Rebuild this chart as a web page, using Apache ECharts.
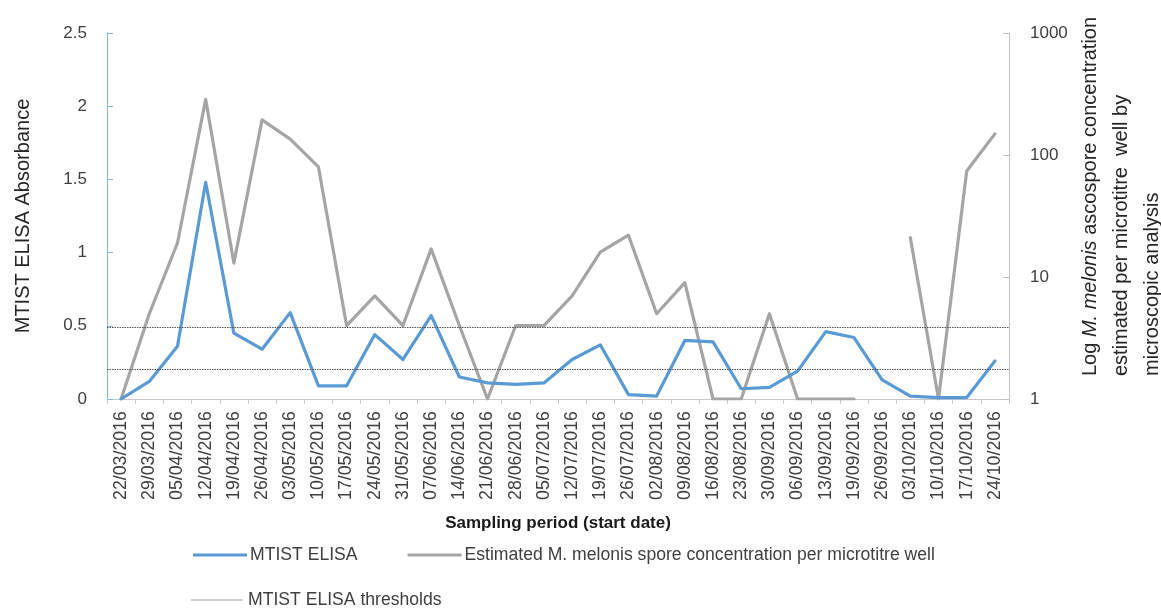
<!DOCTYPE html>
<html>
<head>
<meta charset="utf-8">
<script src="https://cdn.jsdelivr.net/npm/echarts@6/dist/echarts.min.js"></script>
<style>
  html, body { margin: 0; padding: 0; background: #ffffff; }
  #chart { width: 1161px; height: 608px; }
</style>
</head>
<body>
<div id="chart"></div>
<script>
// Weekly sampling periods (start date)
const sampleDates = [
  '22/03/2016', '29/03/2016', '05/04/2016', '12/04/2016', '19/04/2016', '26/04/2016',
  '03/05/2016', '10/05/2016', '17/05/2016', '24/05/2016', '31/05/2016', '07/06/2016',
  '14/06/2016', '21/06/2016', '28/06/2016', '05/07/2016', '12/07/2016', '19/07/2016',
  '26/07/2016', '02/08/2016', '09/08/2016', '16/08/2016', '23/08/2016', '30/09/2016',
  '06/09/2016', '13/09/2016', '19/09/2016', '26/09/2016', '03/10/2016', '10/10/2016',
  '17/10/2016', '24/10/2016'
];

// MTIST ELISA absorbance per sampling period
const elisaAbsorbance = [
  0, 0.12, 0.36, 1.48, 0.45, 0.34, 0.59, 0.09, 0.09, 0.44, 0.27, 0.57,
  0.15, 0.11, 0.10, 0.11, 0.27, 0.37, 0.03, 0.02, 0.40, 0.39, 0.07, 0.08,
  0.19, 0.46, 0.42, 0.13, 0.02, 0.01, 0.01, 0.26
];

// Estimated M. melonis ascospores per microtitre well (microscopy); null = no count
const sporeCount = [
  1, 5, 19, 286, 13, 194, 135, 80, 4, 7, 4, 17,
  4, 1, 4, 4, 7, 16, 22, 5, 9, 1, 1, 5,
  1, 1, 1, null, 21, 1, 74, 149
];

// ELISA decision thresholds
const elisaThresholds = [0.49, 0.2];

// Axis ticks
const absorbanceTicks = { min: 0, max: 2.5, interval: 0.5 };
const sporeTicks = { min: 1, max: 1000 };

const seriesNames = {
  elisa: 'MTIST ELISA',
  spores: 'Estimated M. melonis spore concentration per microtitre well',
  thresholds: 'MTIST ELISA thresholds'
};

const FONT = '"Liberation Sans", Arial, sans-serif';
const TEXT = '#404040';

const chart = echarts.init(document.getElementById('chart'), null, { renderer: 'canvas' });

chart.setOption({
  animation: false,
  backgroundColor: '#ffffff',
  textStyle: { fontFamily: FONT },
  grid: { left: 107, right: 152, top: 33, bottom: 209, containLabel: false },
  legend: [
    {
      left: 188, top: 541,
      itemWidth: 54, itemHeight: 3, itemGap: 50,
      icon: 'rect',
      textStyle: { fontFamily: FONT, fontSize: 17.6, color: TEXT, padding: [0, 0, 0, -2] },
      data: [seriesNames.elisa, seriesNames.spores]
    },
    {
      left: 186, top: 586,
      itemWidth: 52, itemHeight: 1,
      icon: 'rect',
      textStyle: { fontFamily: FONT, fontSize: 17.6, color: TEXT, padding: [0, 0, 0, 0] },
      data: [{ name: seriesNames.thresholds, itemStyle: { color: '#a0a0a0' } }]
    }
  ],
  xAxis: {
    type: 'category',
    data: sampleDates,
    boundaryGap: true,
    name: 'Sampling period (start date)',
    nameLocation: 'middle',
    nameGap: 116,
    nameTextStyle: { fontFamily: FONT, fontSize: 17, fontWeight: 'bold', color: '#1a1a1a' },
    axisLine: { show: true, lineStyle: { color: '#c8c8c8', width: 1 } },
    axisTick: { show: true, alignWithLabel: false, interval: 0, length: 5, lineStyle: { color: '#c8c8c8' } },
    axisLabel: { interval: 0, rotate: 90, margin: 12, fontFamily: FONT, fontSize: 17.8, color: TEXT },
    splitLine: { show: false }
  },
  yAxis: [
    {
      type: 'value',
      position: 'left',
      min: absorbanceTicks.min,
      max: absorbanceTicks.max,
      interval: absorbanceTicks.interval,
      name: 'MTIST ELISA Absorbance',
      nameLocation: 'middle',
      nameGap: 74,
      nameRotate: 90,
      nameTextStyle: { fontFamily: FONT, fontSize: 20, color: '#262626' },
      axisLine: { show: true, lineStyle: { color: '#7eb3e3', width: 1 } },
      axisTick: { show: true, inside: true, length: 6, lineStyle: { color: '#7eb3e3' } },
      axisLabel: {
        margin: 20, fontFamily: FONT, fontSize: 17, color: TEXT,
        formatter: v => String(v)
      },
      splitLine: { show: false }
    },
    {
      type: 'log',
      logBase: 10,
      position: 'right',
      min: sporeTicks.min,
      max: sporeTicks.max,
      axisLine: { show: true, lineStyle: { color: '#c0c0c0', width: 1 } },
      axisTick: { show: true, inside: true, length: 6, lineStyle: { color: '#c0c0c0' } },
      axisLabel: {
        margin: 21, fontFamily: FONT, fontSize: 17, color: TEXT,
        formatter: v => String(Math.round(v))
      },
      splitLine: { show: false }
    }
  ],
  series: [
    {
      name: seriesNames.spores,
      type: 'line',
      yAxisIndex: 1,
      data: sporeCount,
      connectNulls: false,
      symbol: 'none',
      lineStyle: { color: '#a5a5a5', width: 3.2, cap: 'round', join: 'round' },
      itemStyle: { color: '#a5a5a5' },
      z: 2
    },
    {
      name: seriesNames.elisa,
      type: 'line',
      yAxisIndex: 0,
      data: elisaAbsorbance,
      symbol: 'none',
      lineStyle: { color: '#5b9bd5', width: 3.2, cap: 'round', join: 'round' },
      itemStyle: { color: '#5b9bd5' },
      z: 3
    },
    {
      name: seriesNames.thresholds,
      type: 'line',
      yAxisIndex: 0,
      data: sampleDates.map(() => null),
      symbol: 'none',
      lineStyle: { color: '#a0a0a0', width: 1, type: 'dotted' },
      itemStyle: { color: '#a0a0a0' },
      z: 4,
      markLine: {
        silent: true,
        symbol: 'none',
        animation: false,
        label: { show: false },
        lineStyle: { color: '#555555', width: 1.2, type: [1.5, 1] },
        data: elisaThresholds.map(v => ({ yAxis: v }))
      }
    }
  ],
  graphic: [
    {
      type: 'text',
      x: 1075,
      y: 376,
      rotation: Math.PI / 2,
      style: {
        text: '{n|Log }{i|M. melonis}{n| ascospore concentration}\n{n|estimated per microtitre  well by}\n{n|microscopic analysis}',
        align: 'left',
        verticalAlign: 'top',
        fill: '#262626',
        font: '20px "Liberation Sans", Arial, sans-serif',
        lineHeight: 31,
        rich: {
          n: { fontFamily: FONT, fontSize: 20, lineHeight: 31, fill: '#262626' },
          i: { fontFamily: FONT, fontSize: 20, lineHeight: 31, fontStyle: 'italic', fill: '#262626' }
        }
      }
    }
  ]
});
</script>
</body>
</html>
